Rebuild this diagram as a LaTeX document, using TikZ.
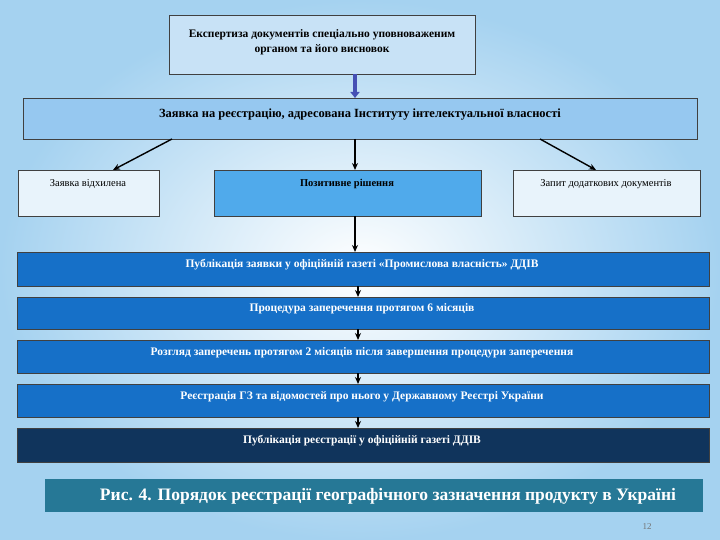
\documentclass[tikz,border=0pt]{standalone}
\usepackage{fontspec}
\setmainfont{Liberation Serif}
\usetikzlibrary{arrows.meta}
\definecolor{bgb}{RGB}{165,210,240}
\definecolor{topf}{RGB}{200,226,246}
\definecolor{reqf}{RGB}{150,200,240}
\definecolor{pale}{RGB}{232,243,251}
\definecolor{midf}{RGB}{80,170,235}
\definecolor{barf}{RGB}{22,112,200}
\definecolor{darkf}{RGB}{16,52,92}
\definecolor{capf}{RGB}{38,120,150}
\definecolor{arrb}{RGB}{70,80,180}
\tikzset{x=1pt,y=-1pt,
 box/.style={draw=black!75,line width=0.7pt},
 bar/.style={text=white,font=\bfseries\fontsize{11.5}{13}\selectfont},
 arr/.style={-{Stealth[length=7pt,width=6pt]},line width=1.4pt,black}}
\begin{document}
\begin{tikzpicture}
\useasboundingbox (0,0) rectangle (720,540);
\shade[inner color=white,outer color=bgb] (0,0) rectangle (720,540);
\draw[box,fill=topf] (169,15) rectangle (475,74);
\node[font=\bfseries\fontsize{11.5}{15}\selectfont,align=center] (top) at (322,42) {Експертиза документів спеціально уповноваженим\\органом та його висновок};
\draw[box,fill=reqf] (23,98) rectangle (697,139);
\node[font=\bfseries\fontsize{12.5}{14}\selectfont] (req) at (360,115) {Заявка на реєстрацію, адресована Інституту інтелектуальної власності};
\draw[box,fill=pale] (18,170) rectangle (159,216);
\node[font=\fontsize{10.5}{12}\selectfont] (l) at (88,184) {Заявка відхилена};
\draw[box,fill=midf] (214,170) rectangle (481,216);
\node[font=\bfseries\fontsize{10.5}{12}\selectfont] (m) at (347,184) {Позитивне рішення};
\draw[box,fill=pale] (513,170) rectangle (700,216);
\node[font=\fontsize{10.5}{12}\selectfont] (r) at (606,184) {Запит додаткових документів};
\draw[box,fill=barf] (17,252) rectangle (709,286);
\node[bar] (b1) at (362,265) {Публікація заявки у офіційній газеті «Промислова власність» ДДІВ};
\draw[box,fill=barf] (17,297) rectangle (709,329);
\node[bar] (b2) at (362,309) {Процедура заперечення протягом 6 місяців};
\draw[box,fill=barf] (17,340) rectangle (709,373);
\node[bar] (b3) at (362,353) {Розгляд заперечень протягом 2 місяців після завершення процедури заперечення};
\draw[box,fill=barf] (17,384) rectangle (709,417);
\node[bar] (b4) at (362,397) {Реєстрація ГЗ та відомостей про нього у Державному Реєстрі України};
\draw[box,fill=darkf] (17,428) rectangle (709,462);
\node[bar] (b5) at (362,441) {Публікація реєстрації у офіційній газеті ДДІВ};
\fill[capf] (45,479) rectangle (703,512);
\node[text=white,font=\bfseries\fontsize{17.5}{19}\selectfont] (cap) at (388,496) {Рис. 4. Порядок реєстрації географічного зазначення продукту в Україні};
\node[text=black!55,font=\fontsize{9}{10}\selectfont] (pg) at (647,527) {12};
\coordinate (t1) at (355,74); \coordinate (t2) at (355,98);
\draw[-{Triangle[length=6pt,width=9pt]},line width=3.5pt,arrb] (t1) -- (t2);
\coordinate (rl) at (172,139); \coordinate (ll) at (113,170);
\coordinate (rc) at (355,139); \coordinate (mc) at (355,170);
\coordinate (rr) at (540,139); \coordinate (rt) at (596,170);
\draw[arr] (rl) -- (ll);
\draw[arr] (rc) -- (mc);
\draw[arr] (rr) -- (rt);
\coordinate (m1) at (355,216); \coordinate (c1) at (355,252);
\draw[arr] (m1) -- (c1);
\foreach \a/\b in {286/297,329/340,373/384,417/428}
 \draw[arr] (358,\a) -- (358,\b);
\end{tikzpicture}
\end{document}
